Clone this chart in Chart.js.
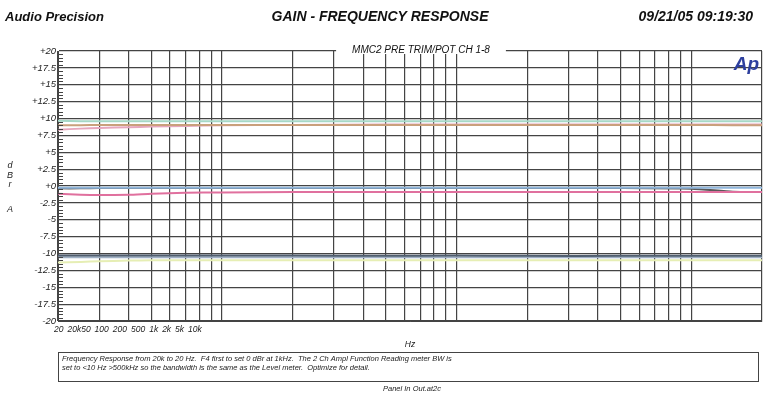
<!DOCTYPE html>
<html>
<head>
<meta charset="utf-8">
<script src="https://cdn.jsdelivr.net/npm/chart.js@4.4.0/dist/chart.umd.min.js"></script>
<style>
  html, body { margin: 0; padding: 0; background: #fff; }
  #wrap { position: relative; width: 764px; height: 393px; }
</style>
</head>
<body>
<div id="wrap"><canvas id="chart"></canvas></div>
<script>
// sweep points (Hz)
const freqs = [20, 25, 30, 40, 50, 70, 100, 200, 500, 1000, 2000, 5000, 10000, 15000, 20000];

// traces, dBr A
const chTeal   = [9.65, 9.6, 9.6, 9.6, 9.6, 9.6, 9.6, 9.6, 9.6, 9.6, 9.6, 9.6, 9.6, 9.6, 9.6];
const chOrange = [9.0, 9.0, 9.05, 9.05, 9.05, 9.05, 9.05, 9.05, 9.05, 9.05, 9.05, 9.05, 9.05, 9.0, 9.0];
const chPinkHi = [8.35, 8.5, 8.6, 8.7, 8.8, 8.9, 9.0, 9.05, 9.1, 9.1, 9.1, 9.1, 9.1, 9.1, 9.1];
const chBlue   = [-0.25, -0.25, -0.25, -0.25, -0.25, -0.25, -0.25, -0.25, -0.25, -0.25, -0.25, -0.25, -0.25, -0.25, -0.25];
const chGray   = [-0.35, -0.35, -0.3, -0.3, -0.3, -0.3, -0.3, -0.3, -0.3, -0.3, -0.3, -0.3, -0.4, -0.85, -0.9];
const chPinkLo = [-1.15, -1.3, -1.35, -1.3, -1.15, -1.0, -0.95, -0.9, -0.9, -0.9, -0.9, -0.9, -0.9, -0.9, -0.9];
const chSlate  = [-10.3, -10.3, -10.3, -10.3, -10.3, -10.3, -10.3, -10.3, -10.35, -10.3, -10.35, -10.35, -10.35, -10.35, -10.35];
const chSteel  = [-10.55, -10.55, -10.55, -10.55, -10.55, -10.55, -10.55, -10.55, -10.55, -10.55, -10.55, -10.55, -10.55, -10.55, -10.55];
const chLime   = [-11.35, -11.25, -11.15, -11.05, -11.0, -11.0, -11.0, -11.0, -11.0, -11.0, -11.0, -11.0, -11.0, -11.0, -11.0];

const series = [
  { data: chSlate,  color: '#4f5d6e' },
  { data: chBlue,   color: '#8fb6dc' },
  { data: chPinkLo, color: '#e0709e' },
  { data: chGray,   color: '#5a5a5a' },
  { data: chSteel,  color: '#9fb0c4' },
  { data: chOrange, color: '#c9a07c' },
  { data: chPinkHi, color: '#e7a6bd' },
  { data: chTeal,   color: '#a6d8c6' },
  { data: chLime,   color: '#e6eeb4' }
];

// grid frequencies of the log axis, and the (oddly bunched) label row
const gridFreqs = [20, 30, 40, 50, 60, 70, 80, 90, 100, 200, 300, 400, 500, 600, 700, 800, 900,
  1000, 2000, 3000, 4000, 5000, 6000, 7000, 8000, 9000, 10000, 20000];
const xTickLabels = ['20', '20k', '50', '100', '200', '500', '1k', '2k', '5k', '10k'];

const FONT = '"Liberation Sans", Arial, sans-serif';
const GRID = '#444444';

function fmtDb(v) {
  if (v > 0) return '+' + v;
  if (v === 0) return '+0';
  return String(v);
}

const decor = {
  id: 'apDecor',
  afterDraw(chart) {
    const { ctx, chartArea: a, scales } = chart;
    const y = scales.y;
    ctx.save();

    // minor ticks inside left edge
    ctx.strokeStyle = GRID;
    ctx.lineWidth = 1;
    for (let v = -20; v <= 20; v += 0.5) {
      if (Math.abs(v % 2.5) < 1e-6) continue;
      const py = Math.round(y.getPixelForValue(v)) + 0.5;
      ctx.beginPath();
      ctx.moveTo(a.left, py);
      ctx.lineTo(a.left + 5, py);
      ctx.stroke();
    }

    // header
    ctx.fillStyle = '#111';
    ctx.textBaseline = 'alphabetic';
    ctx.font = 'italic bold 13px ' + FONT;
    ctx.textAlign = 'left';
    ctx.fillText('Audio Precision', 5, 21);
    ctx.textAlign = 'center';
    ctx.font = 'italic bold 14px ' + FONT;
    ctx.fillText('GAIN - FREQUENCY RESPONSE', 380, 21);
    ctx.textAlign = 'right';
    ctx.font = 'italic bold 14px ' + FONT;
    ctx.fillText('09/21/05 09:19:30', 753, 21);

    // plot title breaking the top border
    const title = 'MMC2 PRE TRIM/POT CH 1-8';
    ctx.font = 'italic 10px ' + FONT;
    const tw = ctx.measureText(title).width;
    const tx = 421;
    ctx.fillStyle = '#fff';
    ctx.fillRect(tx - tw / 2 - 16, a.top - 3, tw + 32, 6);
    ctx.fillStyle = '#111';
    ctx.textAlign = 'center';
    ctx.fillText(title, tx, a.top + 2);

    // Ap logo
    ctx.font = 'italic bold 19px ' + FONT;
    ctx.fillStyle = '#2d3f9e';
    ctx.textAlign = 'right';
    ctx.fillText('Ap', a.right - 3, a.top + 19);

    // y-axis unit, stacked letters
    ctx.fillStyle = '#222';
    ctx.font = 'italic 9px ' + FONT;
    ctx.textAlign = 'center';
    ['d', 'B', 'r'].forEach((ch, i) => ctx.fillText(ch, 10, 168 + i * 9.5));
    ctx.fillText('A', 10, 212);

    // bunched frequency labels
    ctx.font = 'italic 8.5px ' + FONT;
    ctx.textAlign = 'left';
    let lx = a.left - 4;
    xTickLabels.forEach((t) => {
      ctx.fillText(t, lx, a.bottom + 11);
      lx += ctx.measureText(t).width + (t === '20k' ? 0 : 4);
    });

    // x unit
    ctx.textAlign = 'center';
    ctx.fillText('Hz', 410, 347);

    // comment box
    ctx.strokeStyle = '#444';
    ctx.lineWidth = 1;
    ctx.strokeRect(a.left + 0.5, 352.5, a.right - a.left - 4, 29);
    ctx.font = 'italic 7.5px ' + FONT;
    ctx.textAlign = 'left';
    ctx.fillText('Frequency Response from 20k to 20 Hz.  F4 first to set 0 dBr at 1kHz.  The 2 Ch Ampl Function Reading meter BW is', a.left + 4, 361);
    ctx.fillText('set to <10 Hz >500kHz so the bandwidth is the same as the Level meter.  Optimize for detail.', a.left + 4, 370);

    ctx.textAlign = 'center';
    ctx.fillText('Panel In Out.at2c', 412, 391);
    ctx.restore();
  }
};

new Chart(document.getElementById('chart'), {
  type: 'line',
  data: {
    datasets: series.map(s => ({
      data: freqs.map((f, i) => ({ x: f, y: s.data[i] })),
      borderColor: s.color,
      borderWidth: 2,
      pointRadius: 0,
      tension: 0.2,
      fill: false
    }))
  },
  options: {
    responsive: true,
    maintainAspectRatio: false,
    animation: false,
    layout: { padding: { top: 51, right: 2, left: 0, bottom: 0 } },
    plugins: {
      legend: { display: false },
      title: { display: false },
      tooltip: { enabled: false }
    },
    scales: {
      x: {
        type: 'logarithmic',
        min: 20,
        max: 20000,
        afterBuildTicks: (scale) => { scale.ticks = gridFreqs.map(v => ({ value: v })); },
        afterFit: (scale) => { scale.height = 72; },
        ticks: { display: false },
        grid: { color: GRID, lineWidth: 1.2, drawTicks: false },
        border: { display: true, color: GRID }
      },
      y: {
        min: -20,
        max: 20,
        afterFit: (scale) => { scale.width = 58; },
        ticks: {
          stepSize: 2.5,
          padding: 2,
          color: '#222',
          font: { family: FONT, size: 9.5, style: 'italic' },
          callback: (v) => fmtDb(v)
        },
        grid: { color: GRID, lineWidth: 1.2, drawTicks: false },
        border: { display: true, color: GRID }
      }
    }
  },
  plugins: [decor]
});
</script>
</body>
</html>
